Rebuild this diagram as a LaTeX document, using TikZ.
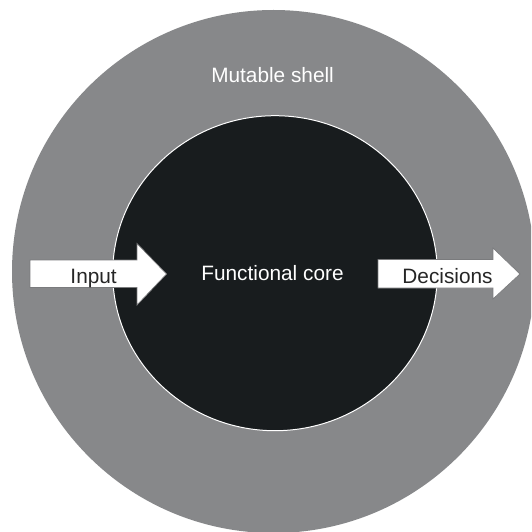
\documentclass[tikz,border=0pt]{standalone}
\usepackage{fontspec}
\setmainfont{Liberation Sans}
\usepackage{xcolor}
\usepackage{tikz}
\usetikzlibrary{calc}
\definecolor{shellgray}{HTML}{87888A}
\definecolor{coreblack}{HTML}{181C1E}
\definecolor{arrowedge}{HTML}{7A7B7D}
\tikzstyle{lbl} = [font=\fontsize{20.8}{24}\selectfont, inner sep=0pt, anchor=base]
\tikzstyle{fat} = [fill=white, draw=arrowedge, line width=0.7pt, line join=miter]

\begin{document}
\begin{tikzpicture}
    [x=1pt, y=-1pt]
    \clip (0,0) rectangle (531,532);
    \fill[white] (0,0) rectangle (531,532);
    \fill[shellgray] (273.5,271.5) circle [radius=261.5];
    \draw[fill=coreblack, draw=white, line width=1pt] (275,273.2) ellipse [x radius=162.3, y radius=157.5];
    % input and output arrows
    \draw[fat] (30,260) -- (137,260) -- (137,243.5) -- (166.5,274) -- (137,305) -- (137,287.5) -- (30,287.5) -- cycle;
    \draw[fat] (378,259.5) -- (493,259.5) -- (493,248) -- (520,274) -- (493,299) -- (493,288) -- (378,288) -- cycle;
    \node[lbl, white] (shell) at (272.6,83) {Mutable shell};
    \node[lbl, white] (core) at (272.5,280) {Functional core};
    \node[lbl, black!85] (input) at (93.6,283) {Input};
    \node[lbl, black!85] (decisions) at (447.5,283) {Decisions};
  \end{tikzpicture}
\end{document}
